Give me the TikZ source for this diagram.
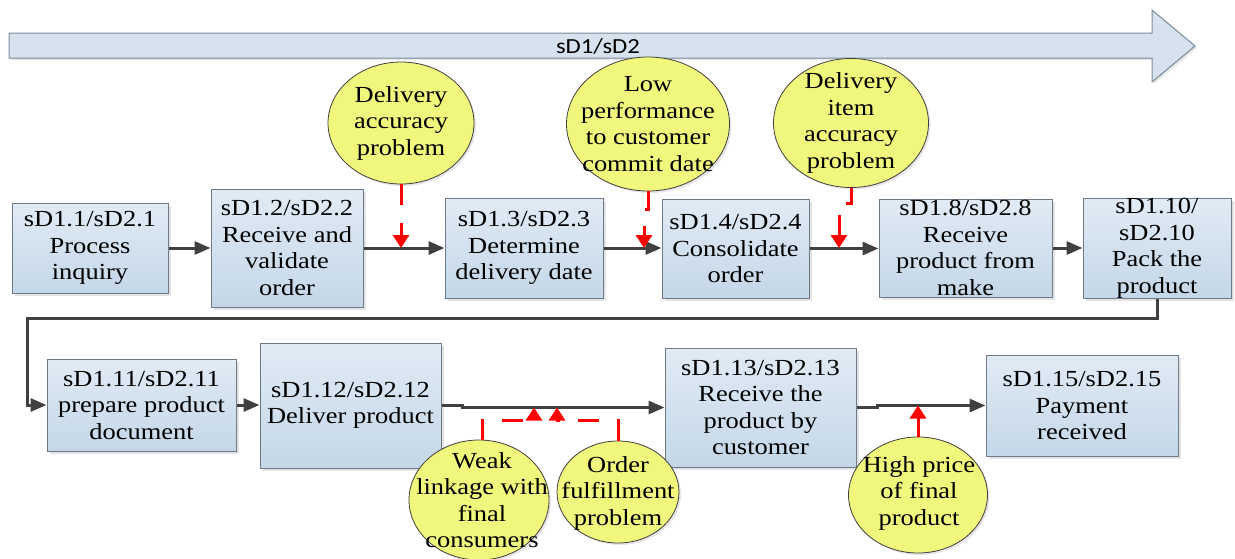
\documentclass[tikz,border=0pt]{standalone}
\usepackage{fontspec}
\setmainfont{Liberation Serif}[FakeStretch=1.15]
\newfontfamily\calfont{Carlito}[FakeStretch=1.15]
\usetikzlibrary{arrows.meta,shapes.geometric,shadows,calc}
\definecolor{boxtop}{RGB}{225,235,245}
\definecolor{boxbot}{RGB}{196,215,232}
\definecolor{boxline}{RGB}{110,122,135}
\definecolor{probfill}{RGB}{241,246,124}
\definecolor{flowcol}{RGB}{64,64,64}
\definecolor{arrowfill}{RGB}{214,227,239}
\definecolor{arrowline}{RGB}{125,138,152}
\definecolor{riskred}{RGB}{255,0,0}
\begin{document}
\begin{tikzpicture}[x=1pt,y=-1pt,
  stepbox/.style={draw=boxline, line width=1pt, top color=boxtop, bottom color=boxbot,
    inner sep=0pt, align=center, font=\fontsize{23}{26.5}\selectfont,
    drop shadow={shadow xshift=2.5pt,shadow yshift=-2.5pt,opacity=0.22}},
  prob/.style={ellipse, draw=flowcol, line width=0.8pt, fill=probfill, inner sep=0pt,
    drop shadow={shadow xshift=2pt,shadow yshift=-2pt,opacity=0.2}},
  ptxt/.style={align=center, inner sep=0pt, font=\fontsize{23}{26.5}\selectfont},
  flow/.style={draw=flowcol, line width=3pt, -{Triangle[length=16pt,width=13pt]}},
  risk/.style={draw=riskred, line width=3pt, dash pattern=on 21pt off 18pt,
    -{Triangle[length=13pt,width=16pt]}},
  risksolid/.style={draw=riskred, line width=3pt, -{Triangle[length=13pt,width=16pt]}},
  bigarr/.style={draw=arrowline, line width=1pt, fill=arrowfill,
    drop shadow={shadow xshift=2pt,shadow yshift=-2pt,opacity=0.2}}
]
\useasboundingbox (0,0) rectangle (1235,558);

% timeline arrow
\draw[bigarr] (9,33) -- (1152,33) -- (1152,10) -- (1195,46) -- (1152,82) -- (1152,58) -- (9,58) -- cycle;
\node[inner sep=0pt, font=\calfont\fontsize{21.5}{24}\selectfont] (tl) at (598,46) {sD1/sD2};

% process steps
\node[stepbox, minimum width=156pt, minimum height=90pt]  (b1)  at (90,248)      {sD1.1/sD2.1\\Process\\inquiry};
\node[stepbox, minimum width=152pt, minimum height=118pt] (b2)  at (287,248)     {sD1.2/sD2.2\\Receive and\\validate\\order};
\node[stepbox, minimum width=158pt, minimum height=100pt] (b3)  at (524,248)     {sD1.3/sD2.3\\Determine\\delivery date};
\node[stepbox, minimum width=147pt, minimum height=99pt]  (b4)  at (735.5,248.5) {sD1.4/sD2.4\\Consolidate\\order};
\node[stepbox, minimum width=173pt, minimum height=98pt]  (b5)  at (965.5,248)   {sD1.8/sD2.8\\Receive\\product from\\make};
\node[stepbox, minimum width=148pt, minimum height=99pt]  (b6)  at (1157,248.5)  {sD1.10/\\sD2.10\\Pack the\\product};
\node[stepbox, minimum width=189pt, minimum height=92pt]  (b7)  at (141.5,405)   {sD1.11/sD2.11\\prepare product\\document};
\node[stepbox, minimum width=181pt, minimum height=125pt] (b8)  at (350.5,405.5) {sD1.12/sD2.12\\Deliver product};
\node[stepbox, minimum width=191pt, minimum height=119pt] (b9)  at (760.5,407.5) {sD1.13/sD2.13\\Receive the\\product by\\customer};
\node[stepbox, minimum width=192pt, minimum height=101pt] (b10) at (1082,405.5)  {sD1.15/sD2.15\\Payment\\received};

% flow connectors
\draw[flow] (b1.east) -- (b1.east -| b2.west);
\draw[flow] (b2.east) -- (b2.east -| b3.west);
\draw[flow] (b3.east) -- (b3.east -| b4.west);
\draw[flow] (b4.east) -- (b4.east -| b5.west);
\draw[flow] (b5.east) -- (b5.east -| b6.west);
\draw[flow] (b6.south) |- (27,318) |- (b7.west);
\draw[flow] (b7.east) -- (b7.east -| b8.west);
\draw[flow] (b8.east) -- ++(21,0) |- (b9.west);
\draw[flow] (b9.east) -- ++(21,0) |- (b10.west);

% problems
\node[prob, minimum width=146pt, minimum height=122pt] (c1) at (401,123) {};
\node[ptxt] (c1t) at (c1) {Delivery\\accuracy\\problem};
\node[prob, minimum width=163pt, minimum height=134pt] (c2) at (648,124) {};
\node[ptxt] (c2t) at (c2) {Low\\performance\\to customer\\commit date};
\node[prob, minimum width=155pt, minimum height=129pt] (c3) at (851,123) {};
\node[ptxt] (c3t) at (c3) {Delivery\\item\\accuracy\\problem};
\node[prob, minimum width=140pt, minimum height=120pt] (c4) at (479,500) {};
\node[ptxt] (c4t) at (482,500) {Weak\\linkage with\\final\\consumers};
\node[prob, minimum width=122pt, minimum height=102pt] (c5) at (618,492) {};
\node[ptxt] (c5t) at (618,493) {Order\\fulfillment\\problem};
\node[prob, minimum width=139pt, minimum height=116pt] (c6) at (918,495) {};
\node[ptxt] (c6t) at (919,493) {High price\\of final\\product};

% risk connectors
\coordinate (r2) at (644,248);
\coordinate (r3) at (839,248);
\coordinate (r4) at (534,407.5);
\coordinate (r5) at (557,407.5);
\draw[risk] (c1.south) -- (c1.south |- b2.east);
\draw[risk] (c2.south) -- ++(0,18) -| (r2);
\draw[risk] (c3.south) -- ++(0,16) -| (r3);
\draw[risk] ([xshift=3pt]c4.north) -- ++(0,-19) -| (r4);
\draw[risk] (c5.north) -- ++(0,-20) -| (r5);
\draw[risksolid] (c6.north) -- (c6.north |- b10.west);
\end{tikzpicture}
\end{document}
